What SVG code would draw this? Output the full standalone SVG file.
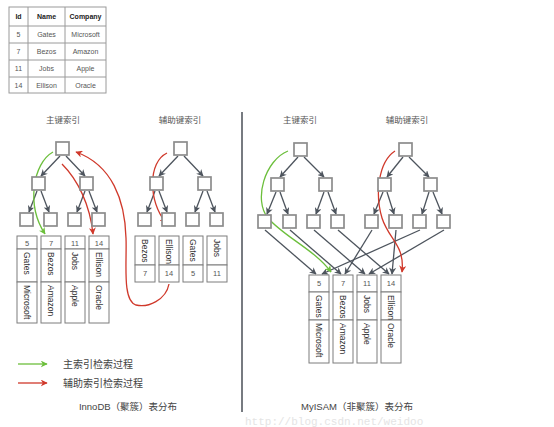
<svg xmlns="http://www.w3.org/2000/svg" width="554" height="427" viewBox="0 0 554 427">
<style>
.tb{fill:none;stroke:#9a9a9a;stroke-width:1}
.th{font-family:"Liberation Sans",Arial,sans-serif;font-size:7px;font-weight:bold;fill:#222;text-anchor:middle}
.td{font-family:"Liberation Sans",Arial,sans-serif;font-size:7px;fill:#555;text-anchor:middle}
.nd{fill:#fff;stroke:#8c8c8c;stroke-width:1.7}
.cell{fill:#fff;stroke:#7d7d7d;stroke-width:1}
.ct{font-family:"Liberation Sans",Arial,sans-serif;font-size:8.5px;fill:#333;dominant-baseline:central}
.cn{font-family:"Liberation Sans",Arial,sans-serif;font-size:7.5px;fill:#555;text-anchor:middle}
.lb{font-family:"Liberation Sans","Noto Sans CJK SC",sans-serif;font-size:8.5px;fill:#555;text-anchor:middle}
.lg{font-family:"Liberation Sans","Noto Sans CJK SC",sans-serif;font-size:10px;fill:#444}
.bt{font-family:"Liberation Sans","Noto Sans CJK SC",sans-serif;font-size:9.5px;fill:#444;text-anchor:middle}
.e{stroke:#4d545d;stroke-width:1.3;fill:none;marker-end:url(#ag)}
.gr{stroke:#6cbf3c;stroke-width:1.3;fill:none;marker-end:url(#agr)}
.rd{stroke:#d0392b;stroke-width:1.3;fill:none;marker-end:url(#ard)}
</style>
<defs>
<marker id="ag" viewBox="0 0 10 10" refX="9" refY="5" markerWidth="7" markerHeight="7" markerUnits="userSpaceOnUse" orient="auto"><path d="M0,0 L10,5 L0,10 L3,5 z" fill="#4d545d"/></marker>
<marker id="agr" viewBox="0 0 10 10" refX="9" refY="5" markerWidth="7" markerHeight="7" markerUnits="userSpaceOnUse" orient="auto"><path d="M0,0 L10,5 L0,10 L3,5 z" fill="#6cbf3c"/></marker>
<marker id="ard" viewBox="0 0 10 10" refX="9" refY="5" markerWidth="7" markerHeight="7" markerUnits="userSpaceOnUse" orient="auto"><path d="M0,0 L10,5 L0,10 L3,5 z" fill="#d0392b"/></marker>
</defs>
<rect width="554" height="427" fill="#fff"/>

<g id="table">
<rect class="tb" x="9" y="7" width="97" height="86"/>
<path class="tb" d="M28,7V93M65,7V93M9,26H106M9,43H106M9,60H106M9,77H106"/>
<text class="th" x="18.5" y="19">Id</text><text class="th" x="46.5" y="19">Name</text><text class="th" x="85.5" y="19">Company</text>
<text class="td" x="18.5" y="37">5</text><text class="td" x="46.5" y="37">Gates</text><text class="td" x="85.5" y="37">Microsoft</text>
<text class="td" x="18.5" y="54">7</text><text class="td" x="46.5" y="54">Bezos</text><text class="td" x="85.5" y="54">Amazon</text>
<text class="td" x="18.5" y="71">11</text><text class="td" x="46.5" y="71">Jobs</text><text class="td" x="85.5" y="71">Apple</text>
<text class="td" x="18.5" y="88">14</text><text class="td" x="46.5" y="88">Ellison</text><text class="td" x="85.5" y="88">Oracle</text>
</g>

<g id="labels">
<text class="lb" x="63" y="123">主键索引</text>
<text class="lb" x="180" y="123">辅助键索引</text>
<text class="lb" x="300" y="123">主键索引</text>
<text class="lb" x="407" y="123">辅助键索引</text>
</g>

<g id="divider"><path d="M242,112V412" stroke="#4a4f57" stroke-width="1.5"/></g>

<g id="connectors">
<path class="e" d="M60,156L41,176"/><path class="e" d="M66,156L85,176"/>
<path class="e" d="M37,191L29,212"/><path class="e" d="M41,191L49,212"/>
<path class="e" d="M85,191L77,212"/><path class="e" d="M89,191L97,212"/>
<path class="e" d="M178,156L159,176"/><path class="e" d="M184,156L203,176"/>
<path class="e" d="M155,191L147,212"/><path class="e" d="M159,191L167,212"/>
<path class="e" d="M203,191L195,212"/><path class="e" d="M207,191L215,212"/>
<path class="e" d="M298,157L280,177"/><path class="e" d="M304,157L324,177"/>
<path class="e" d="M276,192L267,214"/><path class="e" d="M280,192L288,214"/>
<path class="e" d="M324,192L316,214"/><path class="e" d="M328,192L336,214"/>
<path class="e" d="M403,157L387,177"/><path class="e" d="M409,157L429,177"/>
<path class="e" d="M383,192L374,214"/><path class="e" d="M387,192L394,214"/>
<path class="e" d="M429,192L422,214"/><path class="e" d="M433,192L442,214"/>
<path class="e" d="M265,230L316,274"/><path class="e" d="M290,230L341,274"/>
<path class="e" d="M314,230L365,274"/><path class="e" d="M338,230L389,274"/>
<path class="e" d="M372,230L345,274"/><path class="e" d="M396,230L392,274"/>
<path class="e" d="M420,230L322,274"/><path class="e" d="M444,230L369,274"/>
<path class="gr" d="M53,152C33,163 26,205 45,234"/>
<path class="rd" d="M62,164C78,180 90,205 93,234"/>
<path class="rd" d="M167,153C148,162 148,200 166,223"/>
<path class="rd" d="M169,284C166,300 148,308 136,305C122,301 127,262 126,238C125,200 112,165 76,152"/>
<path class="gr" d="M288,151C265,160 253,200 268,218C283,236 315,250 331,272"/>
<path class="rd" d="M395,151C378,162 375,195 382,218C389,240 405,245 402,272"/>
</g>

<g id="innodb-primary">
<rect class="nd" x="56" y="142" width="13" height="13"/>
<rect class="nd" x="32" y="177" width="13" height="13"/><rect class="nd" x="80" y="177" width="13" height="13"/>
<rect class="nd" x="20" y="213" width="13" height="13"/><rect class="nd" x="44" y="213" width="13" height="13"/>
<rect class="nd" x="68" y="213" width="13" height="13"/><rect class="nd" x="92" y="213" width="13" height="13"/>
</g>
<g id="innodb-rows">
<g transform="translate(17,0)"><rect class="cell" x="0" y="236" width="20" height="13"/><rect class="cell" x="0" y="249" width="20" height="33"/><rect class="cell" x="0" y="282" width="20" height="41"/><text class="cn" x="10" y="245.5">5</text><text class="ct" transform="translate(10,252) rotate(90)">Gates</text><text class="ct" transform="translate(10,285) rotate(90)">Microsoft</text></g>
<g transform="translate(41,0)"><rect class="cell" x="0" y="236" width="20" height="13"/><rect class="cell" x="0" y="249" width="20" height="33"/><rect class="cell" x="0" y="282" width="20" height="41"/><text class="cn" x="10" y="245.5">7</text><text class="ct" transform="translate(10,252) rotate(90)">Bezos</text><text class="ct" transform="translate(10,285) rotate(90)">Amazon</text></g>
<g transform="translate(65,0)"><rect class="cell" x="0" y="236" width="20" height="13"/><rect class="cell" x="0" y="249" width="20" height="33"/><rect class="cell" x="0" y="282" width="20" height="41"/><text class="cn" x="10" y="245.5">11</text><text class="ct" transform="translate(10,252) rotate(90)">Jobs</text><text class="ct" transform="translate(10,285) rotate(90)">Apple</text></g>
<g transform="translate(89,0)"><rect class="cell" x="0" y="236" width="20" height="13"/><rect class="cell" x="0" y="249" width="20" height="33"/><rect class="cell" x="0" y="282" width="20" height="41"/><text class="cn" x="10" y="245.5">14</text><text class="ct" transform="translate(10,252) rotate(90)">Ellison</text><text class="ct" transform="translate(10,285) rotate(90)">Oracle</text></g>
</g>

<g id="innodb-secondary">
<rect class="nd" x="174" y="142" width="13" height="13"/>
<rect class="nd" x="150" y="177" width="13" height="13"/><rect class="nd" x="198" y="177" width="13" height="13"/>
<rect class="nd" x="138" y="213" width="13" height="13"/><rect class="nd" x="162" y="213" width="13" height="13"/>
<rect class="nd" x="186" y="213" width="13" height="13"/><rect class="nd" x="210" y="213" width="13" height="13"/>
</g>
<g id="innodb-sec-rows">
<g transform="translate(135,0)"><rect class="cell" x="0" y="236" width="20" height="29"/><rect class="cell" x="0" y="265" width="20" height="17"/><text class="ct" transform="translate(10,239) rotate(90)">Bezos</text><text class="cn" x="10" y="276">7</text></g>
<g transform="translate(159,0)"><rect class="cell" x="0" y="236" width="20" height="29"/><rect class="cell" x="0" y="265" width="20" height="17"/><text class="ct" transform="translate(10,239) rotate(90)">Ellison</text><text class="cn" x="10" y="276">14</text></g>
<g transform="translate(183,0)"><rect class="cell" x="0" y="236" width="20" height="29"/><rect class="cell" x="0" y="265" width="20" height="17"/><text class="ct" transform="translate(10,239) rotate(90)">Gates</text><text class="cn" x="10" y="276">5</text></g>
<g transform="translate(207,0)"><rect class="cell" x="0" y="236" width="20" height="29"/><rect class="cell" x="0" y="265" width="20" height="17"/><text class="ct" transform="translate(10,239) rotate(90)">Jobs</text><text class="cn" x="10" y="276">11</text></g>
</g>

<g id="myisam-primary">
<rect class="nd" x="294" y="143" width="13" height="13"/>
<rect class="nd" x="271" y="178" width="13" height="13"/><rect class="nd" x="319" y="178" width="13" height="13"/>
<rect class="nd" x="258" y="215" width="13" height="13"/><rect class="nd" x="283" y="215" width="13" height="13"/>
<rect class="nd" x="307" y="215" width="13" height="13"/><rect class="nd" x="331" y="215" width="13" height="13"/>
</g>
<g id="myisam-secondary">
<rect class="nd" x="399" y="143" width="13" height="13"/>
<rect class="nd" x="378" y="178" width="13" height="13"/><rect class="nd" x="424" y="178" width="13" height="13"/>
<rect class="nd" x="365" y="215" width="13" height="13"/><rect class="nd" x="389" y="215" width="13" height="13"/>
<rect class="nd" x="413" y="215" width="13" height="13"/><rect class="nd" x="437" y="215" width="13" height="13"/>
</g>
<g id="myisam-rows">
<g transform="translate(309,0)"><rect class="cell" x="0" y="275" width="20" height="17"/><rect class="cell" x="0" y="292" width="20" height="28"/><rect class="cell" x="0" y="320" width="20" height="43"/><text class="cn" x="10" y="286">5</text><text class="ct" transform="translate(10,295) rotate(90)">Gates</text><text class="ct" transform="translate(10,323) rotate(90)">Microsoft</text></g>
<g transform="translate(333,0)"><rect class="cell" x="0" y="275" width="20" height="17"/><rect class="cell" x="0" y="292" width="20" height="28"/><rect class="cell" x="0" y="320" width="20" height="43"/><text class="cn" x="10" y="286">7</text><text class="ct" transform="translate(10,295) rotate(90)">Bezos</text><text class="ct" transform="translate(10,323) rotate(90)">Amazon</text></g>
<g transform="translate(357,0)"><rect class="cell" x="0" y="275" width="20" height="17"/><rect class="cell" x="0" y="292" width="20" height="28"/><rect class="cell" x="0" y="320" width="20" height="43"/><text class="cn" x="10" y="286">11</text><text class="ct" transform="translate(10,295) rotate(90)">Jobs</text><text class="ct" transform="translate(10,323) rotate(90)">Apple</text></g>
<g transform="translate(381,0)"><rect class="cell" x="0" y="275" width="20" height="17"/><rect class="cell" x="0" y="292" width="20" height="28"/><rect class="cell" x="0" y="320" width="20" height="43"/><text class="cn" x="10" y="286">14</text><text class="ct" transform="translate(10,295) rotate(90)">Ellison</text><text class="ct" transform="translate(10,323) rotate(90)">Oracle</text></g>
</g>

<g id="legend">
<path class="gr" d="M18,364H47"/>
<text class="lg" x="63" y="367.5">主索引检索过程</text>
<path class="rd" d="M18,383H47"/>
<text class="lg" x="63" y="386.5">辅助索引检索过程</text>
</g>

<g id="captions">
<text class="bt" x="128" y="410">InnoDB（聚簇）表分布</text>
<text class="bt" x="357" y="410">MyISAM（非聚簇）表分布</text>
<text x="245" y="425" font-family="Liberation Mono,monospace" font-size="11" fill="#e4e4e4">http://blog.csdn.net/weidoo</text>
</g>
</svg>
